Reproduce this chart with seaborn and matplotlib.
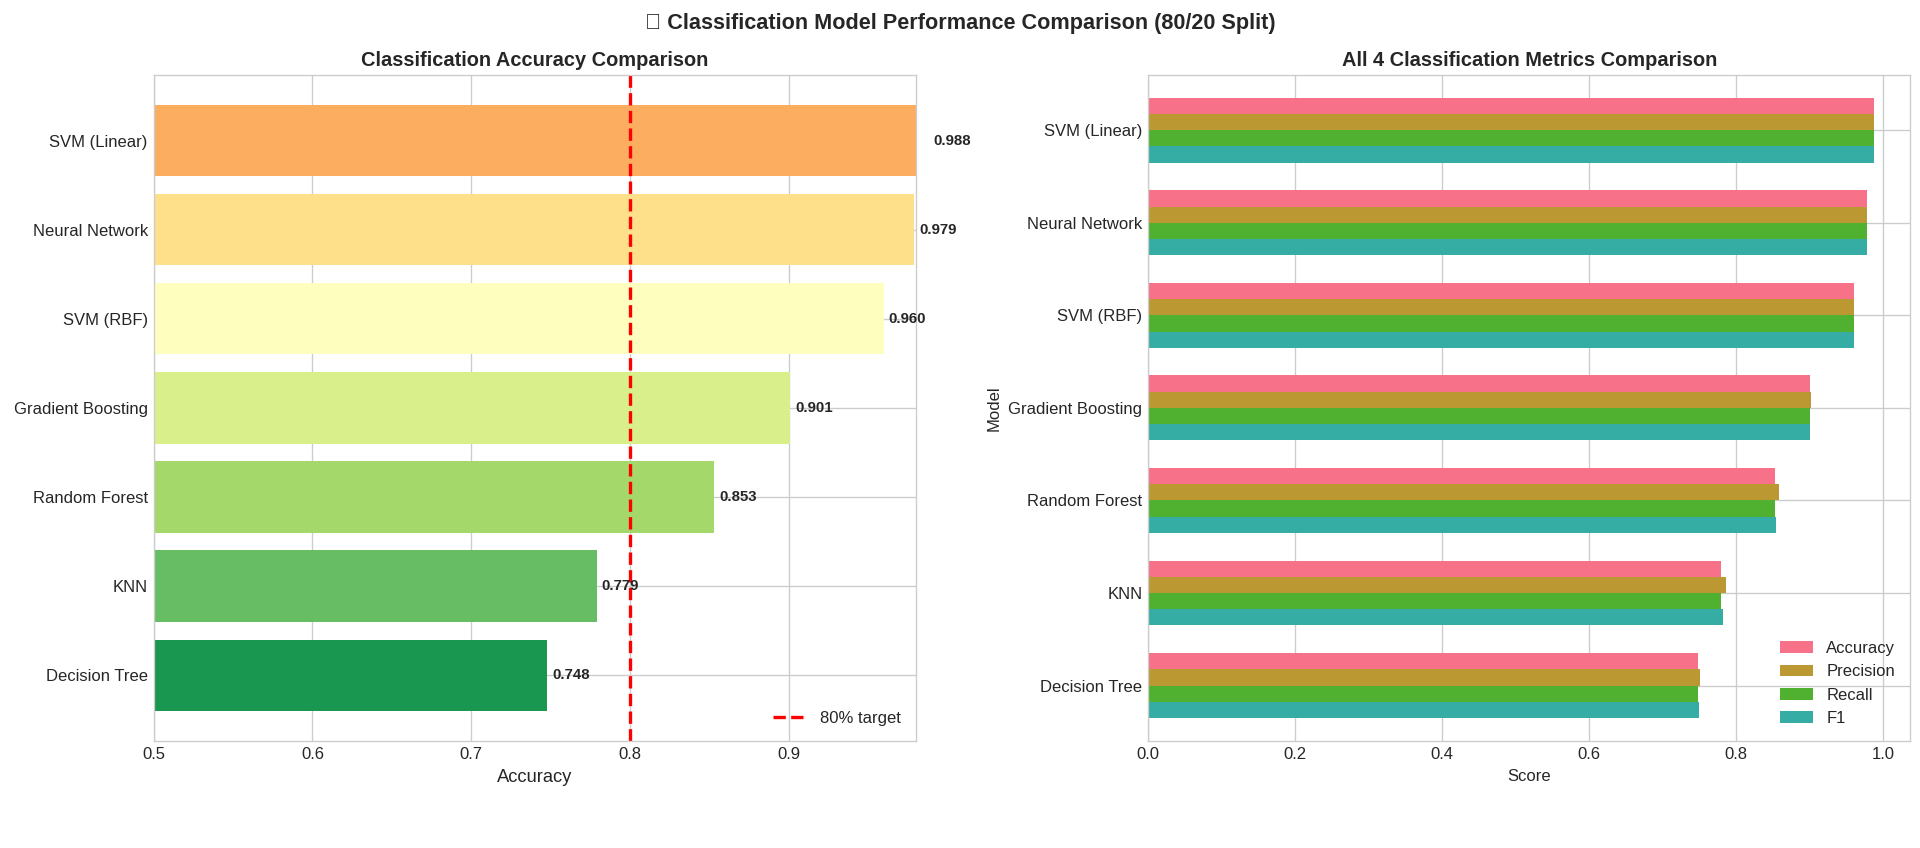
import matplotlib
matplotlib.use('Agg')
import matplotlib.pyplot as plt
import seaborn as sns
import pandas as pd

# data (top to bottom)
models = ['SVM (Linear)', 'Neural Network', 'SVM (RBF)', 'Gradient Boosting',
          'Random Forest', 'KNN', 'Decision Tree']
accuracy = [0.988, 0.979, 0.960, 0.901, 0.853, 0.779, 0.748]
precision = [0.988, 0.979, 0.960, 0.902, 0.859, 0.787, 0.751]
recall = [0.988, 0.979, 0.960, 0.901, 0.853, 0.779, 0.748]
f1 = [0.988, 0.979, 0.960, 0.901, 0.855, 0.782, 0.749]
metric_names = ['Accuracy', 'Precision', 'Recall', 'F1']
target = 0.8

sns.set_style('whitegrid')
plt.rcParams['font.family'] = ['Liberation Sans', 'DejaVu Sans']

fig, (ax1, ax2) = plt.subplots(1, 2, figsize=(16, 848 / 120), dpi=120)
fig.subplots_adjust(left=0.08, right=0.995, bottom=0.126, top=0.912, wspace=0.305)

# left: accuracy only
bar_colors = sns.color_palette('RdYlGn', 9)[2:]
sns.barplot(x=accuracy, y=models, hue=models, palette=bar_colors, legend=False,
            width=0.8, saturation=1, linewidth=0, ax=ax1)
ax1.axvline(target, color='red', linestyle='--', linewidth=2, label='80% target')
for i, v in enumerate(accuracy):
    ax1.text(v + 0.003, i, f'{v:.3f}', va='center', fontsize=9, fontweight='bold',
             color='.15')
ax1.set_xlim(0.5, 0.98)
ax1.set_ylim(6.74, -0.74)
ax1.yaxis.grid(True)
ax1.set_xlabel('Accuracy', fontsize=11)
ax1.set_ylabel('')
ax1.set_title('Classification Accuracy Comparison', fontsize=12, fontweight='bold', pad=5)
ax1.tick_params(labelsize=10, length=0)
ax1.legend(loc='lower right', frameon=False, fontsize=10)

# right: all four metrics
df = pd.DataFrame({'Model': models, 'Accuracy': accuracy, 'Precision': precision,
                   'Recall': recall, 'F1': f1})
long = df.melt(id_vars='Model', var_name='Metric', value_name='Score')
sns.barplot(data=long, y='Model', x='Score', hue='Metric', hue_order=metric_names,
            order=models, palette=sns.color_palette('husl', 6)[:4], width=0.7,
            saturation=1, linewidth=0, ax=ax2)
ax2.set_xlim(0, long['Score'].max() * 1.05)
ax2.set_ylim(6.6, -0.6)
ax2.yaxis.grid(True)
ax2.set_xlabel('Score', fontsize=10)
ax2.set_ylabel('Model', fontsize=10)
ax2.set_title('All 4 Classification Metrics Comparison', fontsize=12, fontweight='bold', pad=5)
ax2.tick_params(labelsize=10, length=0)
ax2.legend(loc='lower right', frameon=False, fontsize=10, title=None)

fig.suptitle('\U0001F4CA Classification Model Performance Comparison (80/20 Split)',
             fontsize=13, fontweight='bold', y=0.985)

plt.savefig('out.png', dpi=120)
plt.close()
